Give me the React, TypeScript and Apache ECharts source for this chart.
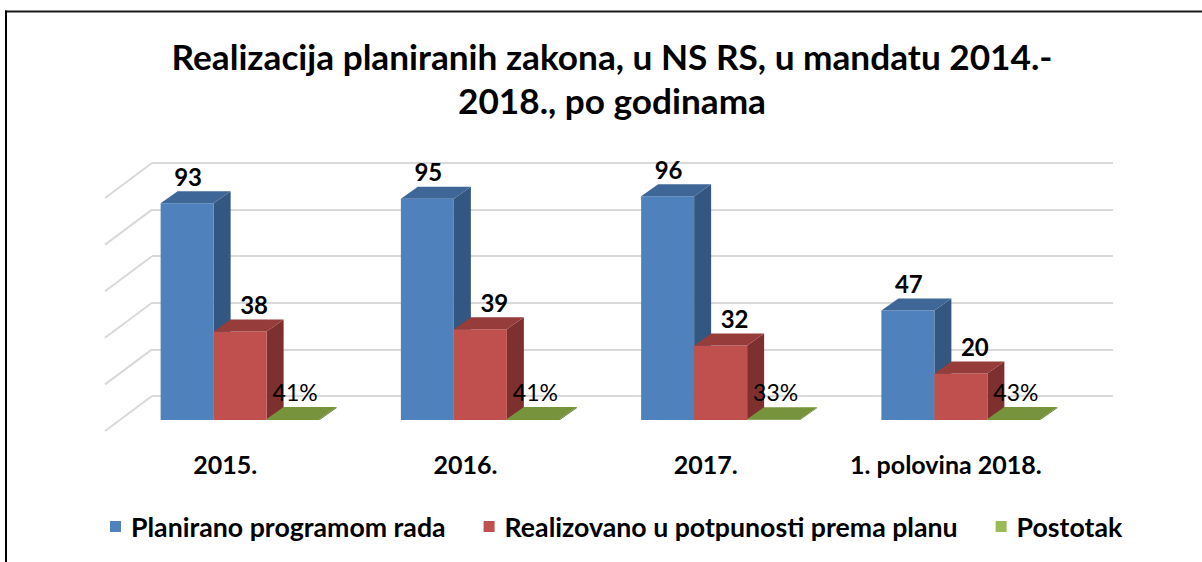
import React, { useEffect, useRef } from "react";
import * as echarts from "echarts";

const categories = ["2015.", "2016.", "2017.", "1. polovina 2018."];
const planned = [93, 95, 96, 47];
const realized = [38, 39, 32, 20];
const percent = [0.41, 0.41, 0.33, 0.43];
const seriesNames = [
  "Planirano programom rada",
  "Realizovano u potpunosti prema planu",
  "Postotak",
];
const yTicks = [0, 20, 40, 60, 80, 100];

const FONT = "Lato";

// 3D projection constants (pixel styling)
const FX = -32; // back wall -> bar front offset
const FY = 24;
const DX = 17; // bar depth
const DY = -12;

type Palette = { front: string; top: string; side: string };
const palettes: Palette[] = [
  { front: "#4F81BD", top: "#3E6797", side: "#335780" },
  { front: "#C0504D", top: "#963C3A", side: "#7E302E" },
  { front: "#77933C", top: "#77933C", side: "#5F7630" },
];
const legendColors = ["#4F81BD", "#C0504D", "#9BBB59"];

function makeRender(
  sIdx: number,
  fmt: (v: number) => string,
  bold: boolean,
  fontSize: number,
  shift: number
) {
  const pal = palettes[sIdx];
  return (params: any, api: any) => {
    const ci = api.value(0);
    const v = api.value(1);
    const base = api.coord([ci, 0]);
    const top = api.coord([ci, v]);
    const band = api.size([1, 0])[0];
    const w = band * 0.2206;
    const x = base[0] + FX - 1.5 * w + sIdx * w;
    const yb = base[1] + FY;
    const yt = top[1] + FY;
    return {
      type: "group",
      children: [
        {
          type: "polygon",
          shape: {
            points: [
              [x + w, yt],
              [x + w + DX, yt + DY],
              [x + w + DX, yb + DY],
              [x + w, yb],
            ],
          },
          style: { fill: pal.side },
        },
        {
          type: "rect",
          shape: { x: x, y: yt, width: w, height: Math.max(yb - yt, 0.5) },
          style: { fill: pal.front },
        },
        {
          type: "polygon",
          shape: {
            points: [
              [x, yt],
              [x + DX, yt + DY],
              [x + w + DX, yt + DY],
              [x + w, yt],
            ],
          },
          style: { fill: pal.top },
        },
        {
          type: "text",
          style: {
            text: fmt(v),
            x: x + w / 2 + shift,
            y: yt + DY - 15,
            align: "center",
            verticalAlign: "middle",
            fill: "#000",
            fontFamily: FONT,
            fontWeight: bold ? "bold" : "normal",
            fontSize: fontSize,
          },
        },
      ],
    };
  };
}

export default function App() {
  const ref = useRef<HTMLDivElement>(null);
  useEffect(() => {
    if (!ref.current) return;
    const chart = echarts.init(ref.current, undefined, { renderer: "svg" });
    const option: any = {
      animation: false,
      backgroundColor: "#fff",
      title: {
        text: "Realizacija planiranih zakona, u NS RS, u mandatu 2014.-\n2018., po godinama",
        left: 607,
        top: 29,
        textAlign: "center",
        textStyle: {
          fontFamily: FONT,
          fontWeight: "bold",
          fontSize: 35.2,
          lineHeight: 44,
          color: "#000",
        },
      },
      grid: { left: 152, top: 163, width: 961, height: 233 },
      xAxis: {
        type: "category",
        data: categories,
        axisLine: { show: false },
        axisTick: { show: false },
        axisLabel: {
          interval: 0,
          hideOverlap: false,
          margin: 55,
          padding: [0, 94, 0, 0],
          fontFamily: FONT,
          fontWeight: "bold",
          fontSize: 25,
          color: "#000",
        },
        splitLine: { show: false },
      },
      yAxis: {
        type: "value",
        min: 0,
        max: 100,
        interval: 20,
        axisLabel: { show: false },
        axisLine: { show: false },
        axisTick: { show: false },
        splitLine: { lineStyle: { color: "#d9d9d9", width: 2 } },
      },
      legend: {
        data: seriesNames,
        top: 508,
        left: 105,
        icon: "rect",
        itemWidth: 11,
        itemHeight: 11,
        itemGap: 38,
        textStyle: {
          fontFamily: FONT,
          fontWeight: "bold",
          fontSize: 26.7,
          color: "#000",
          padding: [0, 0, 0, 5],
        },
      },
      graphic: [
        {
          type: "line",
          shape: { x1: 5, y1: 11.5, x2: 1202, y2: 11.5 },
          style: { stroke: "#1a1a1a", lineWidth: 2 },
        },
        {
          type: "line",
          shape: { x1: 6, y1: 10.5, x2: 6, y2: 562 },
          style: { stroke: "#000", lineWidth: 2 },
        },
      ],
      series: [
        {
          type: "custom",
          name: "sidewall",
          data: yTicks.map((t) => [0, t]),
          encode: { x: 0, y: 1 },
          silent: true,
          renderItem: (params: any, api: any) => {
            const p = api.coord([0, api.value(1)]);
            const left = params.coordSys.x;
            return {
              type: "line",
              shape: { x1: left, y1: p[1], x2: left - 47, y2: p[1] + 35 },
              style: { stroke: "#d9d9d9", lineWidth: 2 },
            };
          },
        },
        {
          type: "custom",
          name: seriesNames[0],
          itemStyle: { color: legendColors[0] },
          data: planned.map((v, i) => [i, v]),
          encode: { x: 0, y: 1 },
          renderItem: makeRender(0, (v) => String(v), true, 24, 1),
        },
        {
          type: "custom",
          name: seriesNames[1],
          itemStyle: { color: legendColors[1] },
          data: realized.map((v, i) => [i, v]),
          encode: { x: 0, y: 1 },
          renderItem: makeRender(1, (v) => String(v), true, 24, 14),
        },
        {
          type: "custom",
          name: seriesNames[2],
          itemStyle: { color: legendColors[2] },
          data: percent.map((v, i) => [i, v]),
          encode: { x: 0, y: 1 },
          renderItem: makeRender(
            2,
            (v) => Math.round(v * 100) + "%",
            false,
            23,
            2
          ),
        },
      ],
    };
    chart.setOption(option);
    return () => chart.dispose();
  }, []);
  return (
    <div
      ref={ref}
      style={{
        position: "fixed",
        left: 0,
        top: 0,
        width: 1202,
        height: 562,
      }}
    />
  );
}
